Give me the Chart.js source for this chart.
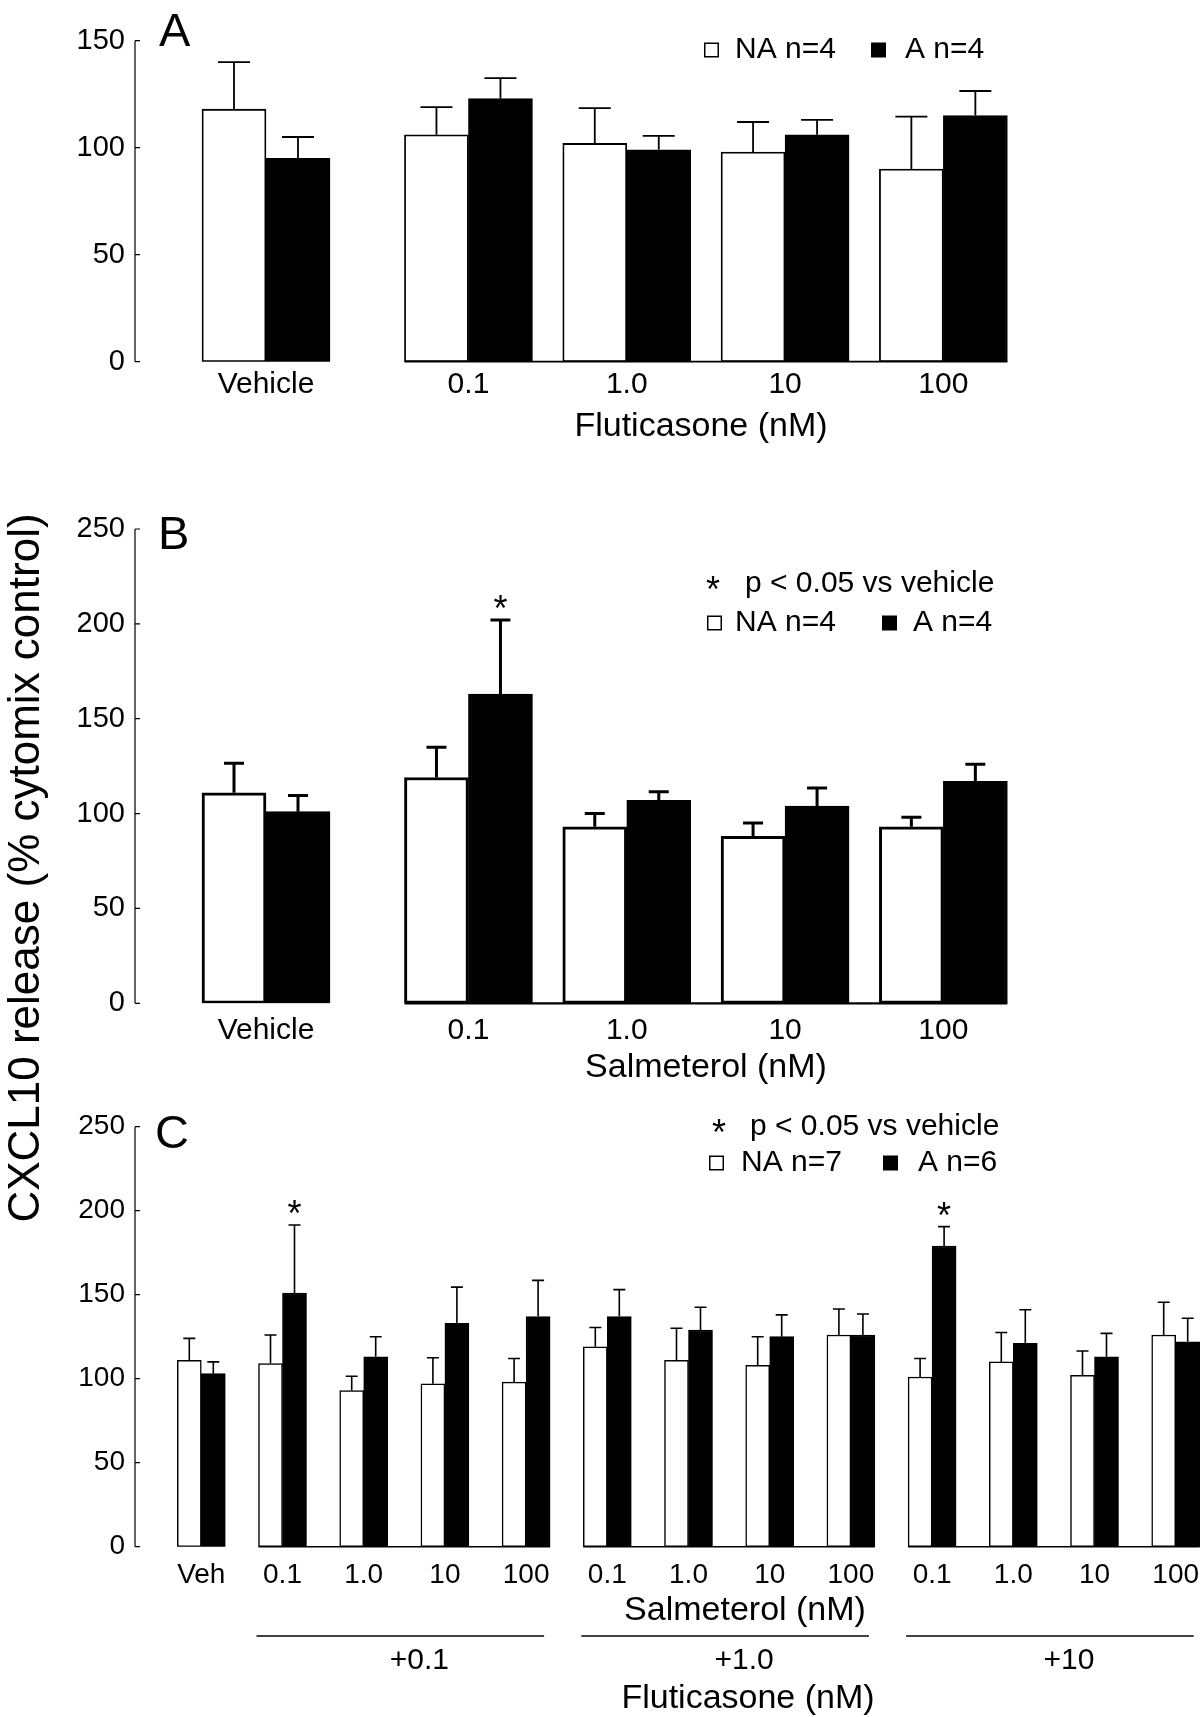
<!DOCTYPE html>
<html>
<head>
<meta charset="utf-8">
<title>CXCL10 release (% cytomix control)</title>
<script src="https://cdn.jsdelivr.net/npm/chart.js@4.4.1/dist/chart.umd.min.js"></script>
<style>
  html, body { margin: 0; padding: 0; background: #ffffff; overflow: hidden; }
  #page { position: relative; width: 1200px; height: 1717px; background: #ffffff; }
  #page canvas { position: absolute; left: 0; top: 0; }
</style>
</head>
<body>
<div id="page">
  <canvas id="chartA" width="1200" height="1717"></canvas>
  <canvas id="chartB" width="1200" height="1717"></canvas>
  <canvas id="chartC" width="1200" height="1717"></canvas>
</div>
<script>
// ---------------- DATA ----------------
// Panel A : Fluticasone (nM)
const catsA   = ['Vehicle', '0.1', '1.0', '10', '100'];
const naA     = [118, 106, 102, 98, 90];
const naErrA  = [22, 13, 16.5, 14, 24.5];
const aA      = [95, 123, 99, 106, 115];
const aErrA   = [10, 9.5, 6.5, 7, 11.5];
const yTicksA = [0, 50, 100, 150];

// Panel B : Salmeterol (nM)
const catsB   = ['Vehicle', '0.1', '1.0', '10', '100'];
const naB     = [111, 119, 93, 88, 93];
const naErrB  = [15.5, 16, 7, 7, 5];
const aB      = [101, 163, 107, 104, 117];
const aErrB   = [8.5, 39, 4.5, 9.5, 9];
const yTicksB = [0, 50, 100, 150, 200, 250];
const sigB    = [1];

// Panel C : Salmeterol (nM) + Fluticasone (nM)
const catsC   = ['Veh', '0.1', '1.0', '10', '100', '0.1', '1.0', '10', '100', '0.1', '1.0', '10', '100'];
const naC     = [111, 109, 93, 97, 98, 119, 111, 108, 126, 101, 110, 102, 126];
const naErrC  = [13, 17, 8.5, 15.5, 14, 11.5, 19, 17, 15.5, 11, 17.5, 14.5, 19.5];
const aC      = [103, 151, 113, 133, 137, 137, 129, 125, 126, 179, 121, 113, 122];
const aErrC   = [7, 40.5, 12, 21.5, 21.5, 16, 13.5, 13, 12.5, 11.5, 20, 14, 14];
const yTicksC = [0, 50, 100, 150, 200, 250];
const sigC    = [1, 9];
const flutGroupsC = ['+0.1', '+1.0', '+10'];
const flutRangesC = [[1, 4], [5, 8], [9, 12]];

// ---------------- LAYOUT / DRAWING ----------------
const FONT = '"Liberation Sans", Arial, Helvetica, sans-serif';
const H = 1717, LEFT = 135, RIGHT = 1200, XAXIS_H = 60;
Chart.defaults.font.family = FONT;
Chart.defaults.color = '#000';

function f(size) { return size + 'px ' + FONT; }

function inkCenterText(ctx, str, x, cy) {
  const m = ctx.measureText(str);
  const asc = m.actualBoundingBoxAscent, desc = m.actualBoundingBoxDescent;
  ctx.textBaseline = 'alphabetic';
  ctx.fillText(str, x, cy + (asc - desc) / 2);
}

function drawText(ctx, str, x, y, size, align) {
  ctx.font = f(size);
  ctx.textAlign = align || 'left';
  ctx.textBaseline = 'middle';
  ctx.fillText(str, x, y);
}

function drawDecor(chart, s, xs) {
  const ctx = chart.ctx, ca = chart.chartArea;
  const X = chart.scales.x, Y = chart.scales.y;
  const px = i => X.getPixelForValue(xs[i]);
  ctx.save();
  ctx.strokeStyle = '#000';
  ctx.fillStyle = '#000';
  ctx.lineCap = 'butt';

  // y axis with inward ticks
  const yTop = Y.getPixelForValue(Y.max), yBot = Y.getPixelForValue(0);
  ctx.lineWidth = s.axisW;
  ctx.beginPath();
  ctx.moveTo(ca.left, yTop);
  ctx.lineTo(ca.left, yBot);
  Y.ticks.forEach(t => {
    const y = Y.getPixelForValue(t.value);
    ctx.moveTo(ca.left, y);
    ctx.lineTo(ca.left + s.tickLen, y);
  });
  ctx.stroke();

  // baseline segments
  ctx.lineWidth = s.baseW;
  ctx.beginPath();
  s.segments.forEach(([a, b]) => {
    ctx.moveTo(px(a) - s.barW, yBot);
    ctx.lineTo(px(b) + s.barW, yBot);
  });
  ctx.stroke();

  // error bars (upper only, with cap)
  const vals = [s.na, s.a], errs = [s.naErr, s.aErr];
  ctx.lineWidth = s.errW;
  ctx.beginPath();
  [0, 1].forEach(d => {
    chart.getDatasetMeta(d).data.forEach((el, i) => {
      const top = Y.getPixelForValue(vals[d][i] + errs[d][i]);
      ctx.moveTo(el.x, el.y);
      ctx.lineTo(el.x, top);
      ctx.moveTo(el.x - s.capW / 2, top);
      ctx.lineTo(el.x + s.capW / 2, top);
    });
  });
  ctx.stroke();

  // significance stars
  ctx.font = f(36);
  ctx.textAlign = 'center';
  const metaA = chart.getDatasetMeta(1);
  s.sig.forEach(i => {
    const el = metaA.data[i];
    const top = Y.getPixelForValue(s.a[i] + s.aErr[i]);
    inkCenterText(ctx, '*', el.x, top - 18);
  });

  // panel letter
  ctx.font = f(47);
  ctx.textAlign = 'left';
  ctx.textBaseline = 'alphabetic';
  ctx.fillText(s.letter.text, s.letter.x, s.letter.y);

  // legend
  s.legend.forEach(it => {
    if (it.type === 'star') {
      ctx.font = f(36); ctx.textAlign = 'left';
      inkCenterText(ctx, '*', it.x, it.y);
    } else if (it.type === 'open') {
      ctx.lineWidth = 1.5;
      ctx.fillStyle = '#fff';
      ctx.fillRect(it.x, it.y - 7.5, 15, 15);
      ctx.fillStyle = '#000';
      ctx.strokeRect(it.x + 0.75, it.y - 6.75, 13.5, 13.5);
    } else if (it.type === 'filled') {
      ctx.fillRect(it.x, it.y - 7.5, 15, 15);
    } else {
      drawText(ctx, it.text, it.x, it.y, 30, 'left');
    }
  });

  // axis titles
  s.titles.forEach(t => drawText(ctx, t.text, t.x, t.y, 34, 'center'));

  // grouping lines (panel C)
  if (s.groups) {
    ctx.lineWidth = 1.3;
    s.groups.names.forEach((name, g) => {
      const [a, b] = s.groups.ranges[g];
      ctx.beginPath();
      ctx.moveTo(px(a) - s.barW - 2, s.groups.lineY);
      ctx.lineTo(px(b) + s.barW - 6, s.groups.lineY);
      ctx.stroke();
      let mean = 0;
      for (let i = a; i <= b; i++) mean += px(i);
      mean /= (b - a + 1);
      drawText(ctx, name, mean + 15, s.groups.labelY, 30, 'center');
    });
  }

  // shared vertical title
  if (s.yTitle) {
    ctx.save();
    ctx.translate(s.yTitle.x, s.yTitle.y);
    ctx.rotate(-Math.PI / 2);
    ctx.font = f(44);
    ctx.textAlign = 'center';
    ctx.textBaseline = 'alphabetic';
    ctx.fillText(s.yTitle.text, 0, 0);
    ctx.restore();
  }
  ctx.restore();
}

function makePanel(id, s) {
  const xs = s.cats.map((c, i) => s.xpos(i));
  const xmin = -(s.originPx - LEFT) / s.unitPx;
  const xmax = xmin + (RIGHT - LEFT) / s.unitPx;
  const pts = arr => arr.map((v, i) => ({ x: xs[i], y: v }));
  const ds = (label, vals, fill) => ({
    label: label, data: pts(vals), backgroundColor: fill, borderColor: '#000',
    borderWidth: s.barBorder, borderSkipped: false, barThickness: s.barW
  });
  const decor = { id: 'decor_' + id, afterDraw(chart) { drawDecor(chart, s, xs); } };
  return new Chart(document.getElementById(id), {
    type: 'bar',
    data: { datasets: [ds(s.legendNames[0], s.na, '#ffffff'), ds(s.legendNames[1], s.a, '#000000')] },
    options: {
      responsive: false, animation: false, devicePixelRatio: 1, events: [],
      layout: { padding: { left: 0, right: 0, top: s.top, bottom: H - s.bottom - XAXIS_H } },
      plugins: { legend: { display: false }, tooltip: { enabled: false } },
      scales: {
        x: {
          type: 'linear', min: xmin, max: xmax, offset: false,
          grid: { display: false, drawTicks: false }, border: { display: false },
          afterBuildTicks: sc => { sc.ticks = xs.map(v => ({ value: v })); },
          afterFit: sc => { sc.height = XAXIS_H; sc.paddingLeft = 0; sc.paddingRight = 0; },
          ticks: {
            autoSkip: false, maxRotation: 0, minRotation: 0, padding: s.xPad, color: '#000',
            font: { family: FONT, size: s.xFont }, callback: (v, i) => s.cats[i]
          }
        },
        y: {
          type: 'linear', min: 0, max: s.yTicks[s.yTicks.length - 1],
          grid: { display: false, drawTicks: false }, border: { display: false },
          afterBuildTicks: sc => { sc.ticks = s.yTicks.map(v => ({ value: v })); },
          afterFit: sc => { sc.width = LEFT; sc.paddingTop = 0; sc.paddingBottom = 0; },
          ticks: { padding: 10, color: '#000', font: { family: FONT, size: s.yFont }, callback: v => String(v) }
        }
      }
    },
    plugins: [decor]
  });
}

const GAP_AB = 0.279;   // extra space after the Vehicle group (in group units)
const xposAB = i => (i === 0 ? 0 : i + GAP_AB);

makePanel('chartA', {
  cats: catsA, na: naA, naErr: naErrA, a: aA, aErr: aErrA, yTicks: yTicksA, sig: [],
  legendNames: ['NA n=4', 'A n=4'],
  xpos: xposAB, originPx: 266, unitPx: 158.3, top: 40.7, bottom: 361.7,
  barW: 64, barBorder: 1.8, errW: 1.8, capW: 32, axisW: 1.2, tickLen: 5, baseW: 1.8,
  xFont: 30, yFont: 29, xPad: 5.5, segments: [[1, 4]],
  letter: { text: 'A', x: 159, y: 46 },
  legend: [
    { type: 'open', x: 704, y: 50 }, { type: 'text', text: 'NA n=4', x: 735, y: 50 },
    { type: 'filled', x: 871, y: 50 }, { type: 'text', text: 'A n=4', x: 905, y: 50 }
  ],
  titles: [{ text: 'Fluticasone (nM)', x: 701, y: 427 }]
});

makePanel('chartB', {
  cats: catsB, na: naB, naErr: naErrB, a: aB, aErr: aErrB, yTicks: yTicksB, sig: sigB,
  legendNames: ['NA n=4', 'A n=4'],
  xpos: xposAB, originPx: 266, unitPx: 158.3, top: 529, bottom: 1003.3,
  barW: 64, barBorder: 3, errW: 3, capW: 20, axisW: 1.2, tickLen: 5, baseW: 2.2,
  xFont: 30, yFont: 29, xPad: 9.5, segments: [[1, 4]],
  letter: { text: 'B', x: 158, y: 549 },
  legend: [
    { type: 'star', x: 706, y: 583 }, { type: 'text', text: 'p < 0.05 vs vehicle', x: 745, y: 584 },
    { type: 'open', x: 707, y: 623 }, { type: 'text', text: 'NA n=4', x: 735, y: 623 },
    { type: 'filled', x: 882, y: 623 }, { type: 'text', text: 'A n=4', x: 913, y: 623 }
  ],
  titles: [{ text: 'Salmeterol (nM)', x: 706, y: 1068 }],
  yTitle: { text: 'CXCL10 release (% cytomix control)', x: 39, y: 868 }
});

makePanel('chartC', {
  cats: catsC, na: naC, naErr: naErrC, a: aC, aErr: aErrC, yTicks: yTicksC, sig: sigC,
  legendNames: ['NA n=7', 'A n=6'],
  xpos: i => i, originPx: 201.3, unitPx: 81.2, top: 1126.7, bottom: 1546.7,
  barW: 24, barBorder: 1.5, errW: 1.6, capW: 12, axisW: 1.2, tickLen: 5, baseW: 1.5,
  xFont: 28, yFont: 28, xPad: 11.5, segments: [[1, 4], [5, 8], [9, 12]],
  letter: { text: 'C', x: 155, y: 1148 },
  legend: [
    { type: 'star', x: 712, y: 1126 }, { type: 'text', text: 'p < 0.05 vs vehicle', x: 750, y: 1127 },
    { type: 'open', x: 709, y: 1163 }, { type: 'text', text: 'NA n=7', x: 741, y: 1163 },
    { type: 'filled', x: 883, y: 1163 }, { type: 'text', text: 'A n=6', x: 918, y: 1163 }
  ],
  titles: [{ text: 'Salmeterol (nM)', x: 745, y: 1611 }, { text: 'Fluticasone (nM)', x: 748, y: 1699 }],
  groups: { names: flutGroupsC, ranges: flutRangesC, lineY: 1636, labelY: 1661 }
});
</script>
</body>
</html>
